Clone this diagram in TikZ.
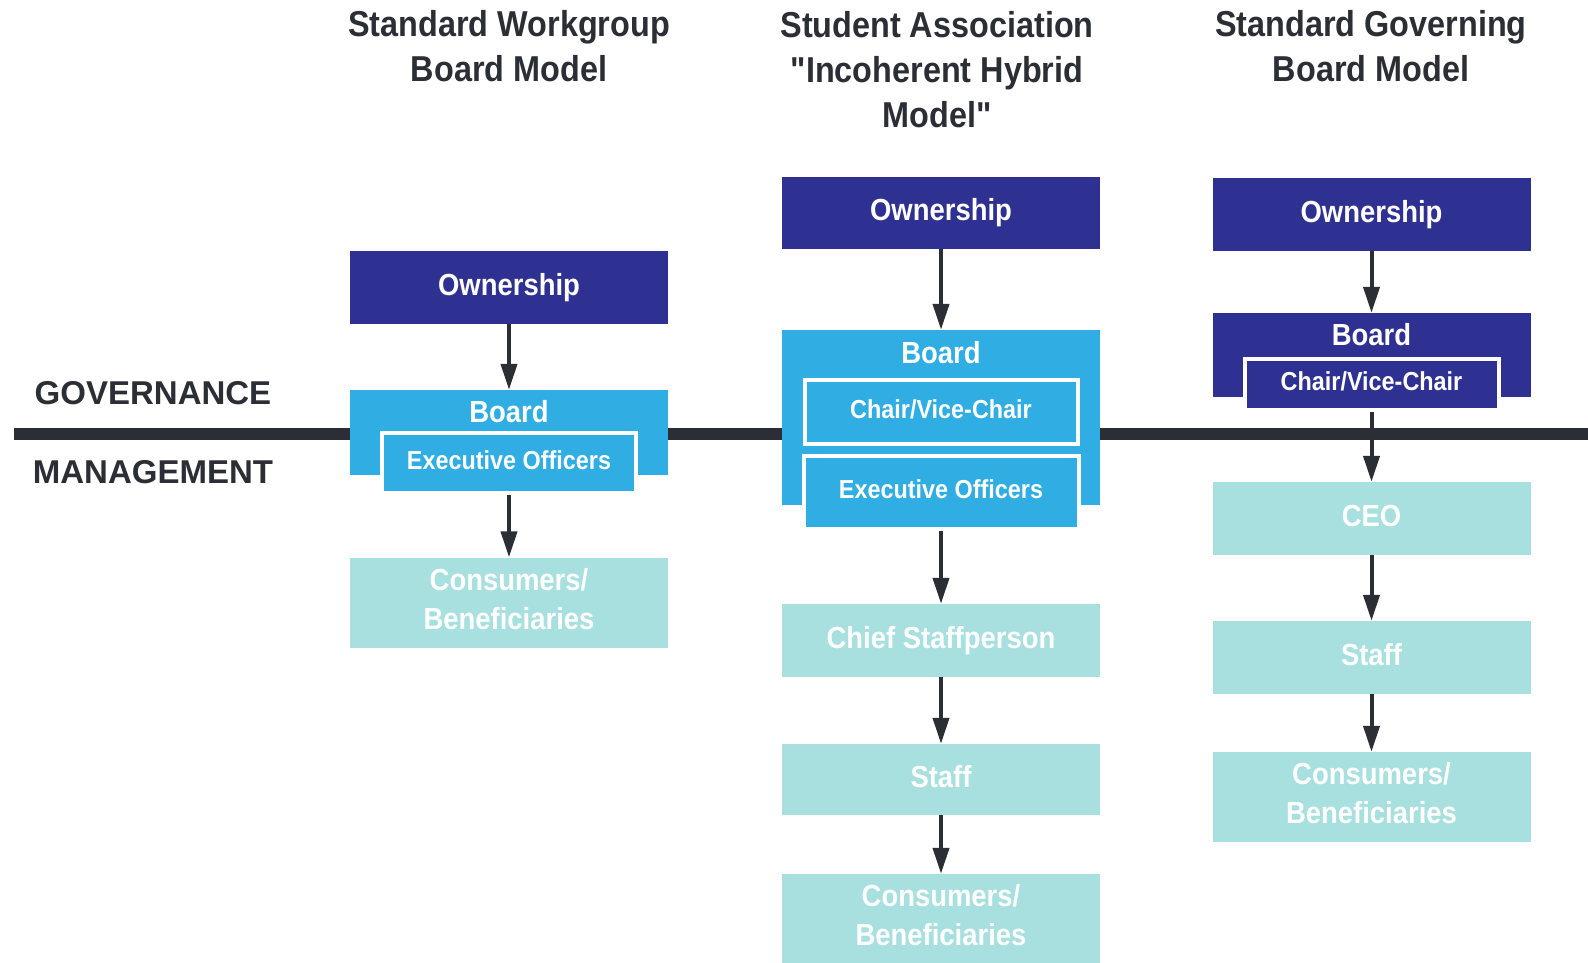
\documentclass[tikz,border=0pt]{standalone}
\usepackage{fontspec}
\setmainfont{Liberation Sans}[FakeStretch=0.9,Ligatures=TeXOff]
\newfontfamily\capsfont{Liberation Sans}
\usetikzlibrary{arrows.meta}
\definecolor{navy}{HTML}{2E3192}
\definecolor{skyblue}{HTML}{30ADE2}
\definecolor{paleteal}{HTML}{A8DFDF}
\definecolor{ink}{HTML}{2B2E35}
\newcommand\pad{\rule[-8pt]{0pt}{8pt}}

\begin{document}
\begin{tikzpicture}[x=1pt,y=-1pt,
    box/.style={rectangle,inner sep=0pt,minimum width=318pt,text=white,
      font=\fontsize{30.5}{39}\selectfont\bfseries,align=center,
      text height=18pt,text depth=3pt},
    ownbox/.style={box,fill=navy,minimum height=73pt},
    boardbox/.style={box,fill=skyblue},
    inbox/.style={box,draw=white,line width=4pt,minimum width=254pt,
      font=\fontsize{26}{32}\selectfont\bfseries,text height=15.6pt,text depth=3pt},
    staffbox/.style={box,fill=paleteal,minimum height=73pt},
    consbox/.style={staffbox,minimum height=90pt,text height={},text depth={}},
    title/.style={anchor=north,inner sep=0pt,align=center,text=ink,
      font=\fontsize{36}{45}\selectfont\bfseries},
    side/.style={inner sep=0pt,text=ink,font=\capsfont\fontsize{33}{38}\selectfont\bfseries,
      text height=19.8pt,text depth=7pt},
    arrow/.style={ink,line width=4pt,-{Triangle[width=16pt,length=26pt]}}]
  \useasboundingbox (0,0) rectangle (1588,962);
  % divider
  \coordinate (divW) at (14,434);
  \coordinate (divE) at (1588,434);
  \draw[ink,line width=12pt] (divW) -- (divE);
  \node[side] (gov) at (153,398) {GOVERNANCE};
  \node[side] (mgmt) at (153,477) {MANAGEMENT};

  % workgroup board
  \node[title] (titleL) at (509,10) {Standard Workgroup\\Board Model};
  \node[ownbox] (ownL) at (509,287.5) {Ownership};
  \node[boardbox,minimum height=85pt] (boardL) at (509,432.5) {};
  \node[box] (boardLt) at (509,414.5) {Board};
  \node[inbox,fill=skyblue,minimum height=60pt] (execL) at (509,463) {Executive Officers};
  \node[consbox] (consL) at (509,602.5) {Consumers/\\Beneficiaries\pad};

  % student association
  \node[title] (titleM) at (937,11) {Student Association\\"Incoherent Hybrid\\Model"};
  \node[ownbox,minimum height=72pt] (ownM) at (941,213) {Ownership};
  \node[boardbox,minimum height=175pt] (boardM) at (941,417.5) {};
  \node[box] (boardMt) at (941,355.5) {Board};
  \node[inbox,fill=skyblue,minimum width=273pt,minimum height=64pt] (chairM) at (941,412) {Chair/Vice-Chair};
  \node[inbox,fill=skyblue,minimum width=275pt,minimum height=73pt] (execM) at (941,492.5) {Executive Officers};
  \node[staffbox] (chiefM) at (941,640.5) {Chief Staffperson};
  \node[staffbox,minimum height=71pt] (staffM) at (941,779.5) {Staff};
  \node[consbox] (consM) at (941,919) {Consumers/\\Beneficiaries\pad};

  % governing board
  \node[title] (titleR) at (1371,10) {Standard Governing\\Board Model};
  \node[ownbox] (ownR) at (1371.5,214.5) {Ownership};
  \node[boardbox,fill=navy,minimum height=84pt] (boardR) at (1371.5,355) {};
  \node[box] (boardRt) at (1371.5,337.5) {Board};
  \node[inbox,fill=navy,minimum height=51pt] (chairR) at (1371.5,384.5) {Chair/Vice-Chair};
  \node[staffbox] (ceoR) at (1371.5,518.5) {CEO};
  \node[staffbox] (staffR) at (1371.5,657.5) {Staff};
  \node[consbox] (consR) at (1371.5,797) {Consumers/\\Beneficiaries\pad};

  % arrows
  \draw[arrow] (ownL.south) -- (boardL.north);
  \draw[arrow] (execL.south) -- (consL.north);
  \draw[arrow] (ownM.south) -- (boardM.north);
  \draw[arrow] (execM.south) -- (chiefM.north);
  \draw[arrow] (chiefM.south) -- (staffM.north);
  \draw[arrow] (staffM.south) -- (consM.north);
  \draw[arrow] (ownR.south) -- (boardR.north);
  \draw[arrow] (chairR.south) -- (ceoR.north);
  \draw[arrow] (ceoR.south) -- (staffR.north);
  \draw[arrow] (staffR.south) -- (consR.north);
\end{tikzpicture}
\end{document}
